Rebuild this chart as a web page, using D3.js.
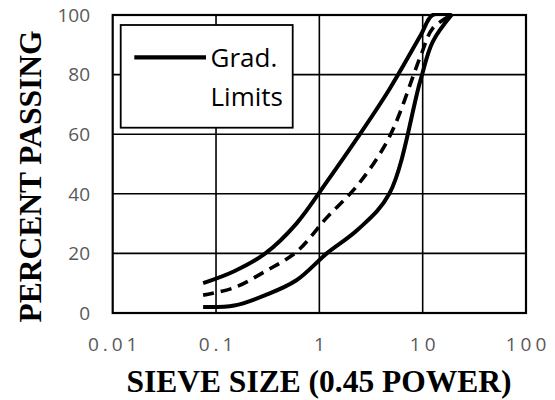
<!DOCTYPE html>
<html>
<head>
<meta charset="utf-8">
<script src="https://cdn.jsdelivr.net/npm/d3@7"></script>
<style>
  html, body { margin: 0; padding: 0; background: #fff; }
  svg { display: block; }
</style>
</head>
<body>
<svg id="chart" width="555" height="400"></svg>
<script>
// Sieve sizes (mm) and percent passing for the gradation band
const sieveSizes = [0.075, 0.15, 0.3, 0.6, 1.18, 2.36, 4.75, 9.5, 12.5, 19];
const upperLimit = [10, 14, 20, 30, 44, 59, 75, 93, 100, 100];
const lowerLimit = [2, 2.5, 6, 11, 20, 28, 40, 78, 91, 100];
const midGradation = [6, 8.5, 14, 20.5, 32, 43, 59, 86, 95.5, 100];

const xTicks = [0.01, 0.1, 1, 10, 100];
const xTickLabels = ["0.01", "0.1", "1", "10", "100"];
const yTicks = [0, 20, 40, 60, 80, 100];

const legendLines = ["Grad.", "Limits"];
const xTitle = "SIEVE SIZE (0.45 POWER)";
const yTitle = "PERCENT PASSING";

const svg = d3.select("#chart");
const plotL = 112.7, plotR = 526, plotT = 15, plotB = 313;

const x = d3.scaleLog().domain([0.01, 100]).range([plotL, plotR]);
const y = d3.scaleLinear().domain([0, 100]).range([plotB, plotT]);

// Gridlines
const grid = svg.append("g").attr("stroke", "#000").attr("stroke-width", 1.6);
grid.selectAll("line.v").data(xTicks.slice(1, -1)).join("line")
  .attr("class", "v")
  .attr("x1", d => x(d)).attr("x2", d => x(d))
  .attr("y1", plotT).attr("y2", plotB);
grid.selectAll("line.h").data(yTicks.slice(1, -1)).join("line")
  .attr("class", "h")
  .attr("x1", plotL).attr("x2", plotR)
  .attr("y1", d => y(d)).attr("y2", d => y(d));

// Plot border
svg.append("rect")
  .attr("x", plotL).attr("y", plotT)
  .attr("width", plotR - plotL).attr("height", plotB - plotT)
  .attr("fill", "none").attr("stroke", "#000").attr("stroke-width", 2.2);

// Curves
const line = d3.line()
  .x(d => x(d[0])).y(d => y(d[1]))
  .curve(d3.curveCatmullRom.alpha(0.5));

svg.append("clipPath").attr("id", "plotClip")
  .append("rect").attr("x", plotL).attr("y", plotT - 2)
  .attr("width", plotR - plotL).attr("height", plotB - plotT + 2);

const curves = svg.append("g").attr("clip-path", "url(#plotClip)")
  .attr("fill", "none").attr("stroke", "#000").attr("stroke-width", 4);

curves.append("path")
  .attr("d", line(d3.zip(sieveSizes, upperLimit)));
curves.append("path")
  .attr("d", line(d3.zip(sieveSizes, lowerLimit)));
curves.append("path")
  .attr("stroke-width", 3.6)
  .attr("stroke-dasharray", "11,7")
  .attr("d", line(d3.zip(sieveSizes, midGradation)));

// Y axis labels
svg.append("g")
  .attr("font-family", "'Open Sans', sans-serif")
  .attr("font-size", 19).attr("fill", "#595959")
  .selectAll("text").data(yTicks).join("text")
  .attr("x", 90).attr("y", d => y(d))
  .attr("dy", "0.36em")
  .attr("text-anchor", "end")
  .text(d => d);

// X axis labels (letter-spaced)
svg.append("g")
  .attr("font-family", "'Open Sans', sans-serif")
  .attr("font-size", 19).attr("fill", "#595959")
  .attr("letter-spacing", "4px")
  .selectAll("text").data(xTicks).join("text")
  .attr("x", d => x(d) + 2).attr("y", 350.5)
  .attr("text-anchor", "middle")
  .text((d, i) => xTickLabels[i]);

// Axis titles
svg.append("text")
  .attr("x", 319).attr("y", 392)
  .attr("text-anchor", "middle")
  .attr("font-family", "'Liberation Serif', 'Times New Roman', serif")
  .attr("font-weight", "bold").attr("font-size", 31.5)
  .attr("fill", "#000")
  .text(xTitle);

svg.append("text")
  .attr("transform", "translate(41,176.5) rotate(-90)")
  .attr("text-anchor", "middle")
  .attr("font-family", "'Liberation Serif', 'Times New Roman', serif")
  .attr("font-weight", "bold").attr("font-size", 31.5)
  .attr("fill", "#000")
  .text(yTitle);

// Legend
const legend = svg.append("g");
legend.append("rect")
  .attr("x", 120.7).attr("y", 25)
  .attr("width", 172).attr("height", 102.7)
  .attr("fill", "#fff").attr("stroke", "#000").attr("stroke-width", 1.8);
legend.append("line")
  .attr("x1", 134.3).attr("x2", 206)
  .attr("y1", 57.3).attr("y2", 57.3)
  .attr("stroke", "#000").attr("stroke-width", 4.2);
legend.selectAll("text").data(legendLines).join("text")
  .attr("x", 210.5).attr("y", (d, i) => 66.7 + i * 39.3)
  .attr("font-family", "'Open Sans', sans-serif")
  .attr("font-size", 26).attr("fill", "#000")
  .text(d => d);
</script>
</body>
</html>
